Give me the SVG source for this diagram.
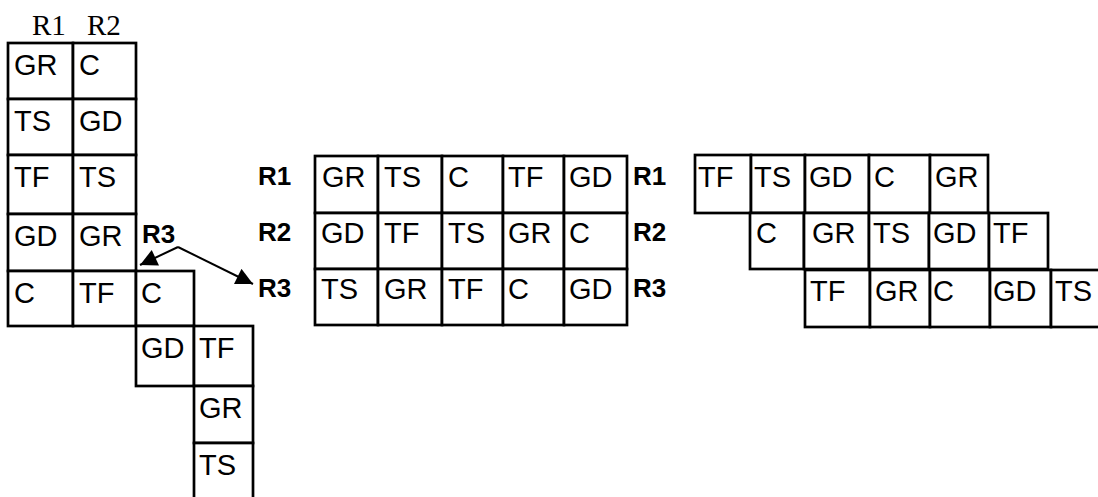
<svg xmlns="http://www.w3.org/2000/svg" width="1098" height="497" viewBox="0 0 1098 497">
<style>
.c g rect{fill:#fff;stroke:#000;stroke-width:2.7}
.c g text{font-family:"Liberation Sans",Arial,sans-serif;font-size:29px;fill:#000}
.lb{font-family:"Liberation Sans",Arial,sans-serif;font-size:26px;font-weight:bold;fill:#000}
.hd{font-family:"Liberation Serif","Times New Roman",serif;font-size:29px;fill:#000}
.ar{stroke:#000;stroke-width:2;fill:none}
</style>
<defs>
<marker id="ah" viewBox="0 0 10 10" refX="10" refY="5" markerUnits="userSpaceOnUse" markerWidth="19" markerHeight="17" orient="auto">
<path d="M0,0 L10,5 L0,10 z" fill="#000"/>
</marker>
</defs>
<rect width="1098" height="497" fill="#fff"/>

<g id="left-table" class="c">
<text class="hd" x="32" y="35">R1</text>
<text class="hd" x="87" y="35">R2</text>
<g id="L1a"><rect x="8" y="43" width="65" height="56"/><text x="14" y="75">GR</text></g>
<g id="L1b"><rect x="73" y="43" width="63" height="56"/><text x="79" y="75">C</text></g>
<g id="L2a"><rect x="8" y="99" width="65" height="56"/><text x="14" y="131">TS</text></g>
<g id="L2b"><rect x="73" y="99" width="63" height="56"/><text x="79" y="131">GD</text></g>
<g id="L3a"><rect x="8" y="155" width="65" height="59"/><text x="14" y="187">TF</text></g>
<g id="L3b"><rect x="73" y="155" width="63" height="59"/><text x="79" y="187">TS</text></g>
<g id="L4a"><rect x="8" y="214" width="65" height="57"/><text x="14" y="246">GD</text></g>
<g id="L4b"><rect x="73" y="214" width="63" height="57"/><text x="79" y="246">GR</text></g>
<g id="L5a"><rect x="8" y="271" width="65" height="55"/><text x="14" y="303">C</text></g>
<g id="L5b"><rect x="73" y="271" width="63" height="55"/><text x="79" y="303">TF</text></g>
<g id="L5c"><rect x="136" y="271" width="58" height="55"/><text x="141" y="303">C</text></g>
<g id="L6c"><rect x="136" y="326" width="58" height="60"/><text x="141" y="358">GD</text></g>
<g id="L6d"><rect x="194" y="326" width="59" height="60"/><text x="199" y="358">TF</text></g>
<g id="L7d"><rect x="194" y="386" width="59" height="57"/><text x="199" y="418">GR</text></g>
<g id="L8d"><rect x="194" y="443" width="59" height="70"/><text x="199" y="475">TS</text></g>
<text class="lb" x="142" y="243">R3</text>
</g>

<g id="connectors">
<line class="ar" x1="178" y1="247" x2="140" y2="265" marker-end="url(#ah)"/>
<line class="ar" x1="178" y1="247" x2="253" y2="284" marker-end="url(#ah)"/>
</g>

<g id="middle-table" class="c">
<text class="lb" x="258" y="185">R1</text>
<text class="lb" x="258" y="241">R2</text>
<text class="lb" x="258" y="297">R3</text>
<text class="lb" x="633" y="185">R1</text>
<text class="lb" x="633" y="241">R2</text>
<text class="lb" x="633" y="297">R3</text>
<g id="M1a"><rect x="315" y="156" width="63" height="57"/><text x="322" y="187">GR</text></g>
<g id="M1b"><rect x="378" y="156" width="64" height="57"/><text x="384" y="187">TS</text></g>
<g id="M1c"><rect x="442" y="156" width="61" height="57"/><text x="448" y="187">C</text></g>
<g id="M1d"><rect x="503" y="156" width="61" height="57"/><text x="508" y="187">TF</text></g>
<g id="M1e"><rect x="564" y="156" width="63" height="57"/><text x="569" y="187">GD</text></g>
<g id="M2a"><rect x="315" y="213" width="63" height="56"/><text x="321" y="243">GD</text></g>
<g id="M2b"><rect x="378" y="213" width="64" height="56"/><text x="384" y="243">TF</text></g>
<g id="M2c"><rect x="442" y="213" width="61" height="56"/><text x="448" y="243">TS</text></g>
<g id="M2d"><rect x="503" y="213" width="61" height="56"/><text x="508" y="243">GR</text></g>
<g id="M2e"><rect x="564" y="213" width="63" height="56"/><text x="569" y="243">C</text></g>
<g id="M3a"><rect x="315" y="269" width="63" height="56"/><text x="321" y="299">TS</text></g>
<g id="M3b"><rect x="378" y="269" width="64" height="56"/><text x="384" y="299">GR</text></g>
<g id="M3c"><rect x="442" y="269" width="61" height="56"/><text x="448" y="299">TF</text></g>
<g id="M3d"><rect x="503" y="269" width="61" height="56"/><text x="508" y="299">C</text></g>
<g id="M3e"><rect x="564" y="269" width="63" height="56"/><text x="569" y="299">GD</text></g>
</g>

<g id="right-table" class="c">
<g id="R1a"><rect x="695" y="155" width="56" height="58"/><text x="698" y="187">TF</text></g>
<g id="R1b"><rect x="751" y="155" width="54" height="58"/><text x="754" y="187">TS</text></g>
<g id="R1c"><rect x="805" y="155" width="64" height="58"/><text x="809" y="187">GD</text></g>
<g id="R1d"><rect x="869" y="155" width="61" height="58"/><text x="874" y="187">C</text></g>
<g id="R1e"><rect x="930" y="155" width="58" height="58"/><text x="935" y="187">GR</text></g>
<g id="R2a"><rect x="750" y="213" width="54" height="56"/><text x="756" y="243">C</text></g>
<g id="R2b"><rect x="804" y="213" width="65" height="56"/><text x="812" y="243">GR</text></g>
<g id="R2c"><rect x="869" y="213" width="60" height="56"/><text x="873" y="243">TS</text></g>
<g id="R2d"><rect x="929" y="213" width="60" height="56"/><text x="933" y="243">GD</text></g>
<g id="R2e"><rect x="989" y="213" width="59" height="56"/><text x="993" y="243">TF</text></g>
<g id="R3a"><rect x="805" y="270" width="65" height="57"/><text x="810" y="301">TF</text></g>
<g id="R3b"><rect x="870" y="270" width="60" height="57"/><text x="875" y="301">GR</text></g>
<g id="R3c"><rect x="930" y="270" width="60" height="57"/><text x="933" y="301">C</text></g>
<g id="R3d"><rect x="990" y="270" width="61" height="57"/><text x="993" y="301">GD</text></g>
<g id="R3e"><rect x="1051" y="270" width="70" height="57"/><text x="1055" y="301">TS</text></g>
</g>
</svg>
